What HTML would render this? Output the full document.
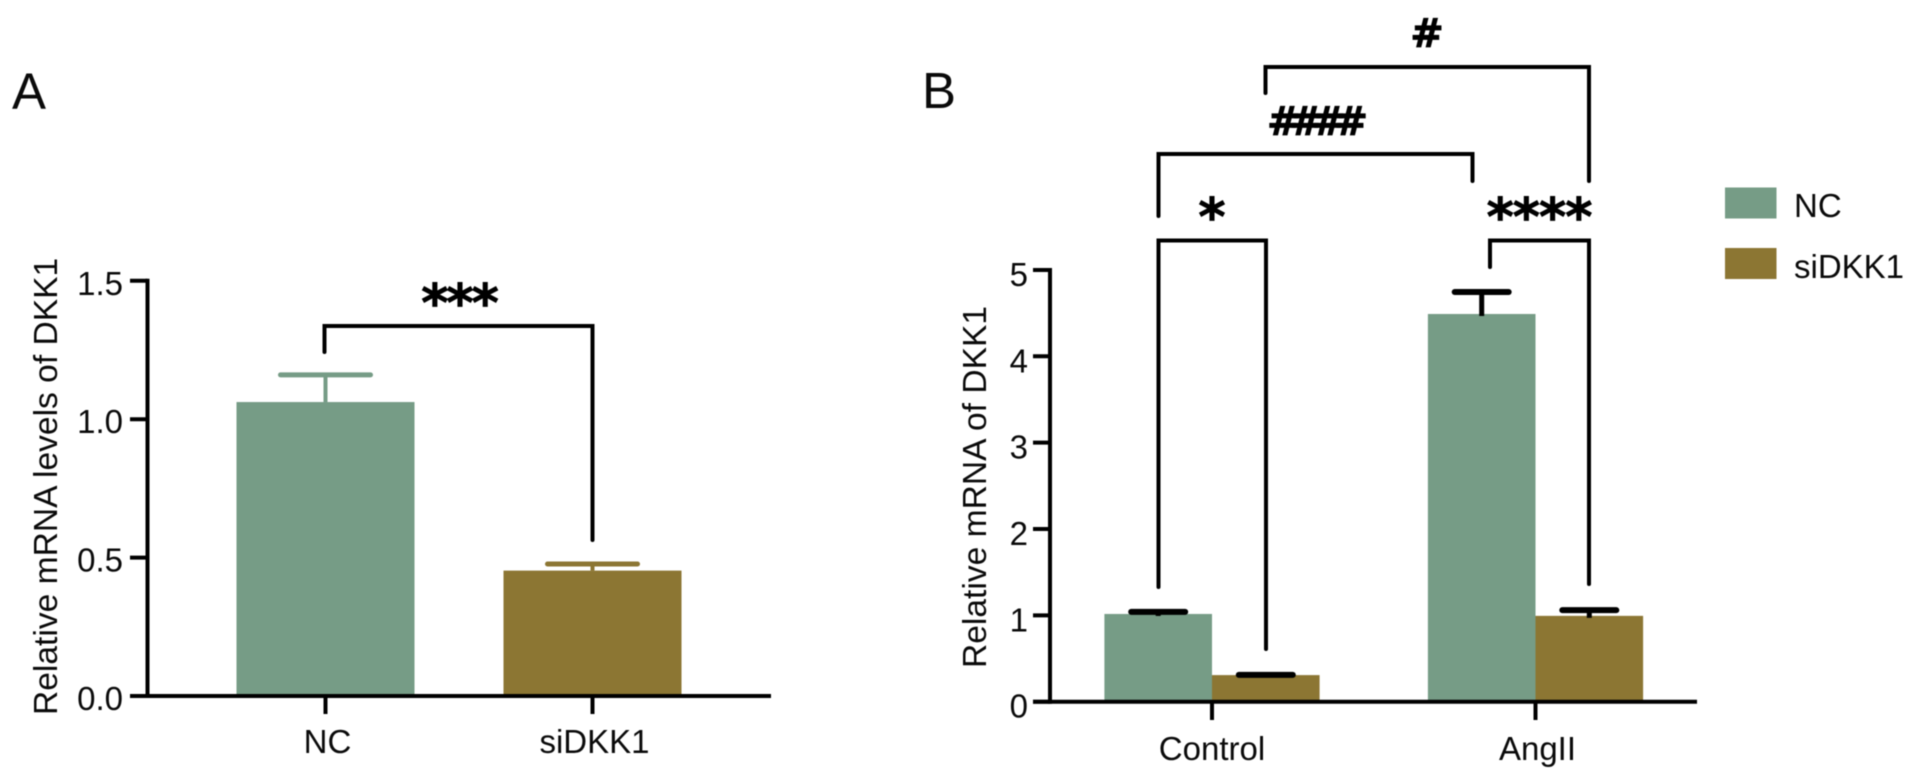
<!DOCTYPE html>
<html lang="en">
<head>
<meta charset="utf-8">
<title>Relative mRNA levels of DKK1</title>
<style>
  html, body { margin: 0; padding: 0; background: #fff; }
  svg { display: block; filter: blur(0.5px); }
  text { font-family: "Liberation Sans", Arial, sans-serif; fill: #0a0a0a; font-size: 33px; }
  .sig { font-family: "DejaVu Sans", sans-serif; font-weight: bold; text-anchor: middle; fill: #000; stroke: #000; stroke-width: 0.8; }
  .bracket { fill: none; stroke: #000; stroke-width: 4; stroke-linecap: round; stroke-linejoin: miter; }
</style>
</head>
<body>
<svg id="figure" xmlns="http://www.w3.org/2000/svg" width="1914" height="781" viewBox="0 0 1914 781">
  <rect x="0" y="0" width="1914" height="781" fill="#ffffff"/>

  <text x="12" y="109" style="font-size:51px">A</text>
  <text x="922" y="108" style="font-size:51px">B</text>

  <g id="panelA"></g>
  <g id="panelB"></g>

  <text transform="translate(57 715) rotate(-90)" style="font-size:33.6px">Relative mRNA levels of DKK1</text>
  <text transform="translate(986 668) rotate(-90)" style="font-size:33.6px">Relative mRNA of DKK1</text>

  <path class="bracket" d="M324.5 352 V326 H592.5 V540"/>
  <text class="sig" x="459" y="321" style="font-size:52px;letter-spacing:-2px">***</text>

  <path class="bracket" d="M1265.5 93 V67 H1589 V181"/>
  <text class="sig" x="1427" y="47" style="font-size:40px">#</text>

  <path class="bracket" d="M1158.5 216 V154 H1472.5 V181"/>
  <text class="sig" x="1312" y="135" style="font-size:40px;letter-spacing:-11px">####</text>

  <path class="bracket" d="M1158.5 587 V240.5 H1266 V649"/>
  <text class="sig" x="1212" y="235" style="font-size:52px">*</text>

  <path class="bracket" d="M1490 267 V240.5 H1589 V584"/>
  <text class="sig" x="1539" y="235" style="font-size:52px;letter-spacing:-1px">****</text>

  <rect x="1725" y="187.5" width="51.5" height="31" fill="#769c86"/>
  <text x="1794" y="217">NC</text>
  <rect x="1725" y="248" width="51.5" height="31" fill="#8c7633"/>
  <text x="1794" y="278">siDKK1</text>
</svg>

<script>
// Panel A data
const categoriesA = ['NC', 'siDKK1'];
const valuesA = [1.062, 0.453];
const errorTopsA = [1.16, 0.477];
const tickValuesA = [0, 0.5, 1, 1.5];
const tickLabelsA = ['0.0', '0.5', '1.0', '1.5'];

// Panel B data
const categoriesB = ['Control', 'AngII'];
const seriesNamesB = ['NC', 'siDKK1'];
const valuesNC = [1.016, 4.49];
const valuesSi = [0.308, 0.994];
const errorTopsNC = [1.04, 4.745];
const errorTopsSi = [0.31, 1.06];
const tickValuesB = [0, 1, 2, 3, 4, 5];
const tickLabelsB = ['0', '1', '2', '3', '4', '5'];

const GREEN = '#769c86';
const BROWN = '#8c7633';
const NS = 'http://www.w3.org/2000/svg';

function yA(v) { return 696 - v * 276.8; }
function xA(i) { return 325.5 + i * 267; }
function yB(v) { return 701.7 - v * 86.35; }
function xGroupB(i) { return 1212 + i * 323.5; }
function xBarB(i, s) { return xGroupB(i) + (s === 0 ? -53.8 : 53.8); }

function makeLine(parent, x1, y1, x2, y2, color, width, cap) {
  const el = document.createElementNS(NS, 'line');
  el.setAttribute('x1', x1);
  el.setAttribute('y1', y1);
  el.setAttribute('x2', x2);
  el.setAttribute('y2', y2);
  el.setAttribute('stroke', color);
  el.setAttribute('stroke-width', width);
  el.setAttribute('stroke-linecap', cap || 'butt');
  parent.appendChild(el);
  return el;
}
function makeRect(parent, x, y, w, h, color) {
  const el = document.createElementNS(NS, 'rect');
  el.setAttribute('x', x);
  el.setAttribute('y', y);
  el.setAttribute('width', w);
  el.setAttribute('height', h);
  el.setAttribute('fill', color);
  parent.appendChild(el);
  return el;
}
function makeText(parent, x, y, str, anchor) {
  const el = document.createElementNS(NS, 'text');
  el.setAttribute('x', x);
  el.setAttribute('y', y);
  el.setAttribute('text-anchor', anchor);
  el.textContent = str;
  parent.appendChild(el);
  return el;
}

// ---------- Panel A ----------
const gA = document.getElementById('panelA');
categoriesA.forEach(function (cat, i) {
  const color = i === 0 ? GREEN : BROWN;
  const cx = xA(i);
  const bar = makeRect(gA, cx - 89, yA(valuesA[i]), 178, yA(0) - yA(valuesA[i]), color);
  
  
  const stem = makeLine(gA, cx, yA(valuesA[i]), cx, yA(errorTopsA[i]), color, 4);
  
  
  const cap = makeLine(gA, cx - 45, yA(errorTopsA[i]), cx + 45, yA(errorTopsA[i]), color, 5, 'round');
  
  
  const tick = makeLine(gA, cx, yA(0), cx, 714, '#000', 4);
  
  
  const label = makeText(gA, cx + 2, 753, cat, 'middle');
  
  
});
const axisYA = makeLine(gA, 147.5, yA(1.5) - 2, 147.5, yA(0) + 2, '#000', 4);


const axisXA = makeLine(gA, 130, yA(0), 771, yA(0), '#000', 4);


tickValuesA.forEach(function (v, i) {
  const t = makeLine(gA, 130, yA(v), 147.5, yA(v), '#000', 4);
  
  
  const l = makeText(gA, 123, yA(v) + 14, tickLabelsA[i], 'end');
  
  
});

// ---------- Panel B ----------
const gB = document.getElementById('panelB');
const barValuesB = [valuesNC, valuesSi];
const errorValuesB = [errorTopsNC, errorTopsSi];
seriesNamesB.forEach(function (name, s) {
  const color = s === 0 ? GREEN : BROWN;
  categoriesB.forEach(function (cat, i) {
    const cx = xBarB(i, s);
    const v = barValuesB[s][i];
    const e = errorValuesB[s][i];
    const bar = makeRect(gB, cx - 53.8, yB(v), 107.6, yB(0) - yB(v), color);
    
    
    const stem = makeLine(gB, cx, yB(v) + 2, cx, yB(e), '#000', 5);
    
    
    const cap = makeLine(gB, cx - 27, yB(e), cx + 27, yB(e), '#000', 6, 'round');
    
    
  });
});
categoriesB.forEach(function (cat, i) {
  const cx = xGroupB(i);
  const tick = makeLine(gB, cx, yB(0), cx, 720, '#000', 4);
  
  
  const label = makeText(gB, cx + (i === 0 ? 0 : 2), 760, cat, 'middle');
  
  
});
const axisYB = makeLine(gB, 1050, yB(5) - 2, 1050, yB(0) + 2, '#000', 4);


const axisXB = makeLine(gB, 1033, yB(0), 1697, yB(0), '#000', 4);


tickValuesB.forEach(function (v, i) {
  const t = makeLine(gB, 1033, yB(v), 1050, yB(v), '#000', 4);
  
  
  const l = makeText(gB, 1028, yB(v) + 16, tickLabelsB[i], 'end');
  
  
});
</script>
</body>
</html>
